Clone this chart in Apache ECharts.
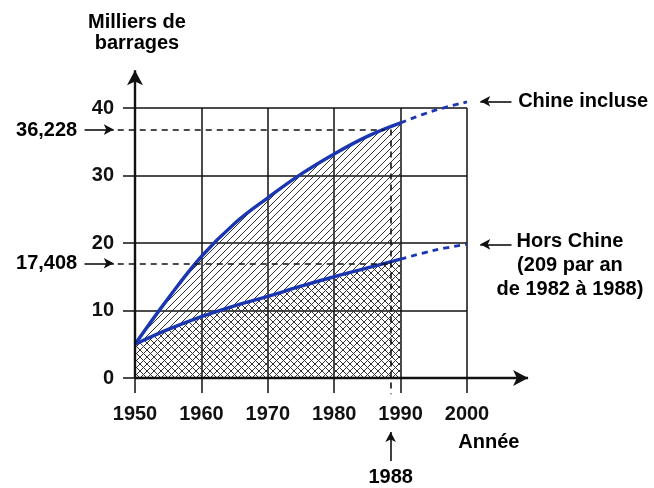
<!DOCTYPE html>
<html>
<head>
<meta charset="utf-8">
<script src="https://cdn.jsdelivr.net/npm/echarts@6/dist/echarts.min.js"></script>
<style>
    html, body { margin: 0; padding: 0; background: #ffffff; }
    #chart { width: 654px; height: 488px; }
</style>
</head>
<body>
<div id="chart"></div>
<script>
// values (milliers de barrages)
var years = [1950, 1955, 1960, 1965, 1970, 1975, 1980, 1985, 1990];
var chineIncluse = [5, 11.8, 18, 22.9, 26.7, 30.2, 33.2, 35.8, 37.8];
var horsChine = [5, 7.2, 9.1, 10.7, 12.1, 13.6, 15, 16.3, 17.6];
var trendYears = [1990, 1995, 2000];
var chineTrend = [37.8, 39.6, 40.9];
var horsTrend = [17.6, 18.9, 19.8];
var xTicks = [1950, 1960, 1970, 1980, 1990, 2000];
var yTicks = [0, 10, 20, 30, 40];
var levelChine = 36.8;   // drawn level of 36,228
var levelHors = 17.0;    // drawn level of 17,408
var markYear = 1988.5;   // drawn position of 1988

var FONT = 'Liberation Sans';
var BLUE = '#1a36b0';

// plot area (pixels) of the main grid
var plotLeft = 135, plotTop = 108, plotW = 332, plotH = 270;
var pxYear = plotW / (xTicks[xTicks.length - 1] - xTicks[0]);
var pxUnit = plotH / (yTicks[yTicks.length - 1] - yTicks[0]);
// a wider, hidden grid with the same scale for the notes round the plot
var annX = [1930, 2025], annY = [-16, 55];

function makeHatch(cross) {
    var size = 7;
    var c = document.createElement('canvas');
    c.width = size;
    c.height = size;
    var ctx = c.getContext('2d');
    ctx.strokeStyle = '#333333';
    ctx.lineWidth = 1;
    ctx.beginPath();
    ctx.moveTo(-1, size + 1); ctx.lineTo(size + 1, -1);
    ctx.moveTo(-1, 1); ctx.lineTo(1, -1);
    ctx.moveTo(size - 1, size + 1); ctx.lineTo(size + 1, size - 1);
    if (cross) {
        ctx.moveTo(-1, -1); ctx.lineTo(size + 1, size + 1);
        ctx.moveTo(size - 1, -1); ctx.lineTo(size + 1, 1);
        ctx.moveTo(-1, size - 1); ctx.lineTo(1, size + 1);
    }
    ctx.stroke();
    return c;
}

function pairs(xs, ys) {
    var out = [];
    for (var i = 0; i < xs.length; i++) out.push([xs[i], ys[i]]);
    return out;
}

function seg(a, b, arrow, size) {
    return [
        { coord: a, symbol: 'none' },
        { coord: b, symbol: arrow ? 'arrow' : 'none', symbolSize: size || [8, 10] }
    ];
}

function dashed(a, b) {
    return [
        { coord: a, symbol: 'none', lineStyle: { type: [6, 5], width: 1.6 } },
        { coord: b, symbol: 'none' }
    ];
}

function note(text, x, y, align, extra) {
    var label = {
        show: true,
        position: 'inside',
        formatter: text,
        align: align,
        verticalAlign: 'middle',
        color: '#000',
        textBorderWidth: 0,
        textBorderColor: 'transparent',
        opacity: 1,
        fontFamily: FONT,
        fontWeight: 'bold',
        fontSize: 20
    };
    if (extra) for (var k in extra) label[k] = extra[k];
    return { value: [x, y], label: label };
}

var chartDom = document.getElementById('chart');
var myChart = echarts.init(chartDom);
var option;

option = {
    animation: false,
    backgroundColor: '#ffffff',
    grid: [
        { left: plotLeft, top: plotTop, width: plotW, height: plotH },
        {
            left: plotLeft - (xTicks[0] - annX[0]) * pxYear,
            width: (annX[1] - annX[0]) * pxYear,
            top: plotTop + plotH - annY[1] * pxUnit,
            height: (annY[1] - annY[0]) * pxUnit
        }
    ],
    xAxis: [
        {
            type: 'value', gridIndex: 0,
            min: xTicks[0], max: xTicks[xTicks.length - 1], interval: 10,
            axisLine: { show: false },
            axisTick: { show: true, inside: false, length: 15, lineStyle: { color: '#111', width: 1.5 } },
            axisLabel: {
                margin: 26, color: '#111', fontFamily: FONT, fontWeight: 'bold', fontSize: 20,
                formatter: function (v) { return String(v); }
            },
            splitLine: { show: true, lineStyle: { color: '#111', width: 1.5 } }
        },
        { type: 'value', gridIndex: 1, min: annX[0], max: annX[1], show: false }
    ],
    yAxis: [
        {
            type: 'value', gridIndex: 0,
            min: yTicks[0], max: yTicks[yTicks.length - 1], interval: 10,
            axisLine: { show: false },
            axisTick: { show: true, inside: false, length: 12, lineStyle: { color: '#111', width: 1.5 } },
            axisLabel: { margin: 21, color: '#111', fontFamily: FONT, fontWeight: 'bold', fontSize: 20 },
            splitLine: { show: true, lineStyle: { color: '#111', width: 1.5 } }
        },
        { type: 'value', gridIndex: 1, min: annY[0], max: annY[1], show: false }
    ],
    series: [
        {
            name: 'Chine incluse',
            type: 'line', xAxisIndex: 0, yAxisIndex: 0,
            data: pairs(years, chineIncluse),
            smooth: 0.4, showSymbol: false, silent: true, z: 3,
            lineStyle: { color: BLUE, width: 3.4 },
            areaStyle: { color: { image: makeHatch(false), repeat: 'repeat' }, opacity: 1 }
        },
        {
            name: 'Hors Chine',
            type: 'line', xAxisIndex: 0, yAxisIndex: 0,
            data: pairs(years, horsChine),
            smooth: 0.4, showSymbol: false, silent: true, z: 3,
            lineStyle: { color: BLUE, width: 3.4 },
            areaStyle: { color: { image: makeHatch(true), repeat: 'repeat' }, opacity: 1 }
        },
        {
            name: 'Chine incluse (tendance)',
            type: 'line', xAxisIndex: 0, yAxisIndex: 0,
            data: pairs(trendYears, chineTrend),
            smooth: 0.4, showSymbol: false, silent: true, clip: false, z: 3,
            lineStyle: { color: BLUE, width: 2.8, type: [6, 5] }
        },
        {
            name: 'Hors Chine (tendance)',
            type: 'line', xAxisIndex: 0, yAxisIndex: 0,
            data: pairs(trendYears, horsTrend),
            smooth: 0.4, showSymbol: false, silent: true, clip: false, z: 3,
            lineStyle: { color: BLUE, width: 2.8, type: [6, 5] }
        },
        {
            name: 'notes',
            type: 'scatter', xAxisIndex: 1, yAxisIndex: 1,
            symbolSize: 1, silent: true, z: 5,
            itemStyle: { color: '#ffffff', opacity: 0 },
            data: [
                note('Milliers de\nbarrages', 1950.3, 51.1, 'center', { lineHeight: 21 }),
                note('36,228', 1941.3, levelChine - 0.2, 'right'),
                note('17,408', 1941.3, levelHors - 0.1, 'right'),
                note('Chine incluse', 2007.7, chineTrend[2] + 0.1, 'left'),
                note('Hors Chine\n(209 par an\nde 1982 à 1988)', 2015.5, 16.6, 'center', { lineHeight: 24 }),
                note('Année', 2003.3, -9.6, 'center'),
                note('1988', markYear, -14.8, 'center')
            ],
            markLine: {
                silent: true,
                symbol: ['none', 'arrow'],
                label: { show: false },
                lineStyle: { color: '#111', width: 1.6, type: 'solid' },
                data: [
                    // axes with arrow heads
                    [
                        { coord: [1950, 0], symbol: 'none', lineStyle: { width: 2.4 } },
                        { coord: [2009.2, 0], symbol: 'arrow', symbolSize: [12, 15] }
                    ],
                    [
                        { coord: [1950, 0], symbol: 'none', lineStyle: { width: 2.4 } },
                        { coord: [1950, 45.6], symbol: 'arrow', symbolSize: [12, 15] }
                    ],
                    // guide lines for 1988
                    dashed([1947.4, levelChine], [1987.6, levelChine]),
                    dashed([1947.4, levelHors], [1988.2, levelHors]),
                    dashed([markYear, levelChine], [markYear, -2.4]),
                    // small arrows
                    seg([1942.4, levelChine], [1946.8, levelChine], true),
                    seg([1942.4, levelHors], [1946.8, levelHors], true),
                    seg([2006.7, chineTrend[2] + 0.1], [2002.0, chineTrend[2] + 0.1], true),
                    seg([2006.7, horsTrend[2]], [2002.0, horsTrend[2]], true),
                    seg([markYear, -12.3], [markYear, -8.0], true)
                ]
            }
        }
    ]
};

myChart.setOption(option);
</script>
</body>
</html>
